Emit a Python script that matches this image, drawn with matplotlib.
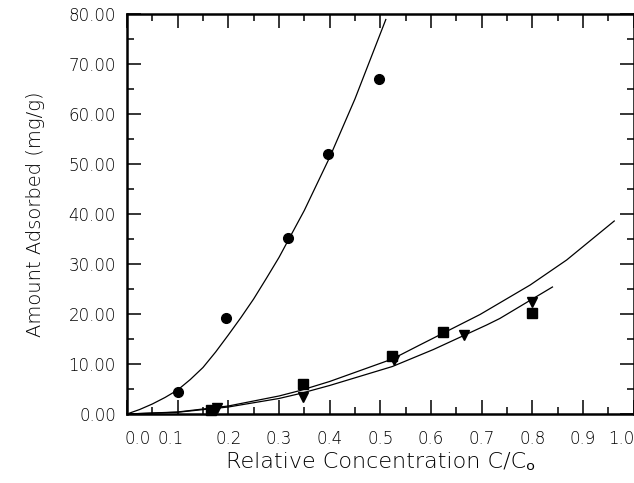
import numpy as np
import matplotlib
matplotlib.use('Agg')
import matplotlib.pyplot as plt
from matplotlib.ticker import MultipleLocator, FormatStrFormatter, NullFormatter

plt.rcParams['font.family'] = ['DejaVu Sans', 'Noto Sans']
plt.rcParams['font.weight'] = 'light'
plt.rcParams['axes.labelweight'] = 'light'

# measured points
circ_x = [0.10, 0.195, 0.318, 0.396, 0.498]
circ_y = [4.5, 19.3, 35.3, 52.0, 67.1]
sq_x = [0.165, 0.348, 0.524, 0.623, 0.800]
sq_y = [0.8, 6.0, 11.6, 16.5, 20.3]
tri_x = [0.178, 0.347, 0.528, 0.666, 0.800]
tri_y = [1.2, 3.5, 10.9, 15.8, 22.5]

# fitted curves
fit1_x = [0, 0.025, 0.05, 0.075, 0.10, 0.125, 0.15, 0.175, 0.20, 0.225, 0.25, 0.275,
          0.30, 0.35, 0.40, 0.45, 0.511]
fit1_y = [0, 0.9, 2.0, 3.3, 4.8, 6.9, 9.3, 12.4, 15.8, 19.3, 23.0, 27.1,
          31.3, 40.7, 51.3, 63.0, 78.9]
fit2_x = [0, 0.1, 0.2, 0.3, 0.342, 0.4, 0.524, 0.578, 0.697, 0.796, 0.868, 0.962]
fit2_y = [0, 0.4, 1.6, 3.6, 4.7, 6.5, 11.0, 13.8, 19.9, 25.8, 30.8, 38.6]
fit3_x = [0, 0.1, 0.2, 0.3, 0.342, 0.4, 0.524, 0.605, 0.710, 0.736, 0.840]
fit3_y = [0, 0.35, 1.4, 3.1, 4.1, 5.7, 9.5, 12.9, 17.8, 19.1, 25.4]

xticks = np.round(np.arange(0, 1.01, 0.1), 1)
# the end labels are pushed in, like the original
xlabel_shift = {0: 8, 1: -5, 10: -9}

fig = plt.figure(figsize=(6.34, 4.83), dpi=100)
ax = fig.add_axes([127/634, 1-414/483, 506.5/634, 400/483])

ax.plot(fit1_x, fit1_y, color='black', lw=0.9)
ax.plot(fit2_x, fit2_y, color='black', lw=0.9)
ax.plot(fit3_x, fit3_y, color='black', lw=0.9)
ax.plot(circ_x, circ_y, 'o', color='black', ms=7, clip_on=False)
ax.plot(sq_x, sq_y, 's', color='black', ms=6.5, clip_on=False)
ax.plot(tri_x, tri_y, 'v', color='black', ms=7, clip_on=False)

ax.set_xlim(0, 1.0)
ax.set_ylim(0, 80)
ax.set_xticks(xticks)
ax.xaxis.set_minor_locator(MultipleLocator(0.05))
ax.yaxis.set_major_locator(MultipleLocator(10))
ax.yaxis.set_minor_locator(MultipleLocator(5))
ax.xaxis.set_major_formatter(NullFormatter())
ax.yaxis.set_major_formatter(FormatStrFormatter('%.2f'))

ax.tick_params(which='both', direction='in', top=True, right=True, width=1.1, labelsize=12)
ax.tick_params(which='major', length=10)
ax.tick_params(which='minor', length=5)
ax.tick_params(axis='y', pad=8)
for s in ax.spines.values():
    s.set_linewidth(1.8)

for i, t in enumerate(xticks):
    ax.annotate('%.1f' % t, xy=(t, 0), xycoords=('data', 'axes fraction'),
                xytext=(xlabel_shift.get(i, 0), -18), textcoords='offset points',
                ha='center', va='center', fontsize=12)

ax.set_xlabel('Relative Concentration C/C\u2092', fontsize=16, labelpad=24, fontweight='light')
ax.set_ylabel('Amount Adsorbed (mg/g)', fontsize=14, labelpad=17, fontweight='light')

fig.savefig('out.png', dpi=100)
